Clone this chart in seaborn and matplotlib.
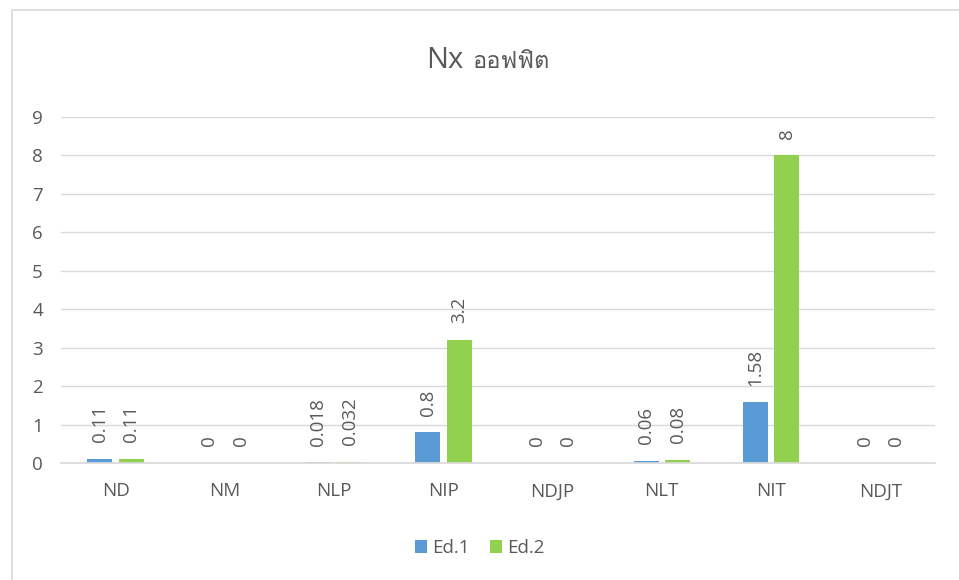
import numpy as np
import pandas as pd
import matplotlib
matplotlib.use("Agg")
import matplotlib.pyplot as plt
import seaborn as sb
from matplotlib import font_manager
from matplotlib.ft2font import FT2Font
from matplotlib.patches import Rectangle, Patch

categories = ["ND", "NM", "NLP", "NIP", "NDJP", "NLT", "NIT", "NDJT"]
ed1 = [0.11, 0, 0.018, 0.8, 0, 0.06, 1.58, 0]
ed2 = [0.11, 0, 0.032, 3.2, 0, 0.08, 8, 0]
series = ["Ed.1", "Ed.2"]
colors = ["#5B9BD5", "#92D050"]
title_main = "Nx"
title_thai = "ออฟฟิต"

sb.set_theme(style="white")

# หาฟอนต์ที่มีอักษรไทย
thai_family = None
for f in font_manager.fontManager.ttflist:
    try:
        if 0x0E2D in FT2Font(f.fname).get_charmap():
            thai_family = f.name
            break
    except Exception:
        pass
families = ["Open Sans", "DejaVu Sans"]
if thai_family:
    families.append(thai_family)
plt.rcParams["font.family"] = families

grey = "#595959"

df = pd.DataFrame({
    "cat": categories * 2,
    "val": ed1 + ed2,
    "ser": [series[0]] * len(categories) + [series[1]] * len(categories),
})

fig = plt.figure(figsize=(9.59, 5.8), dpi=100)
ax = fig.add_axes([61 / 959, 1 - 463 / 580, (935 - 61) / 959, (463 - 117) / 580])

sb.barplot(data=df, x="cat", y="val", hue="ser", palette=colors, width=0.577,
           gap=0.206, ax=ax, legend=False, saturation=1, linewidth=0)

for cont in ax.containers:
    ax.bar_label(cont, fmt="%g", rotation=90, padding=12, fontsize=13.5, color=grey)

ax.set_ylim(0, 9)
ax.set_xlim(-0.5, len(categories) - 0.5)
ax.set_yticks(range(0, 10))
ax.yaxis.grid(True, color="#D9D9D9", linewidth=1)
ax.set_axisbelow(True)
for s in ["top", "right", "left"]:
    ax.spines[s].set_visible(False)
ax.spines["bottom"].set_color("#D9D9D9")
ax.tick_params(axis="y", length=0, pad=13, labelsize=13.5, labelcolor=grey)
ax.tick_params(axis="x", length=0, pad=14, labelsize=13.5, labelcolor=grey)
ax.set_xlabel("")
ax.set_ylabel("")

base_y = 1 - 68 / 580
fig.text(463 / 959, base_y, title_main, ha="right", va="baseline", fontsize=21, color=grey)
fig.text(472 / 959, base_y, title_thai, ha="left", va="baseline", fontsize=17, color=grey,
         family=[thai_family] if thai_family else families)

handles = [Patch(facecolor=c, edgecolor="none") for c in colors]
fig.legend(handles, series, loc="center", bbox_to_anchor=(0.5, 1 - 548 / 580), ncol=2,
           frameon=False, fontsize=13.5, labelcolor=grey, handlelength=0.65,
           handleheight=0.65, handletextpad=0.25, columnspacing=1.1)

fig.patches.append(Rectangle((12 / 959, -0.05), 1.0, 1 - 10 / 580 + 0.05,
                             transform=fig.transFigure, fill=False,
                             edgecolor="#D9D9D9", linewidth=1.2))

plt.savefig("out.png", dpi=100)
